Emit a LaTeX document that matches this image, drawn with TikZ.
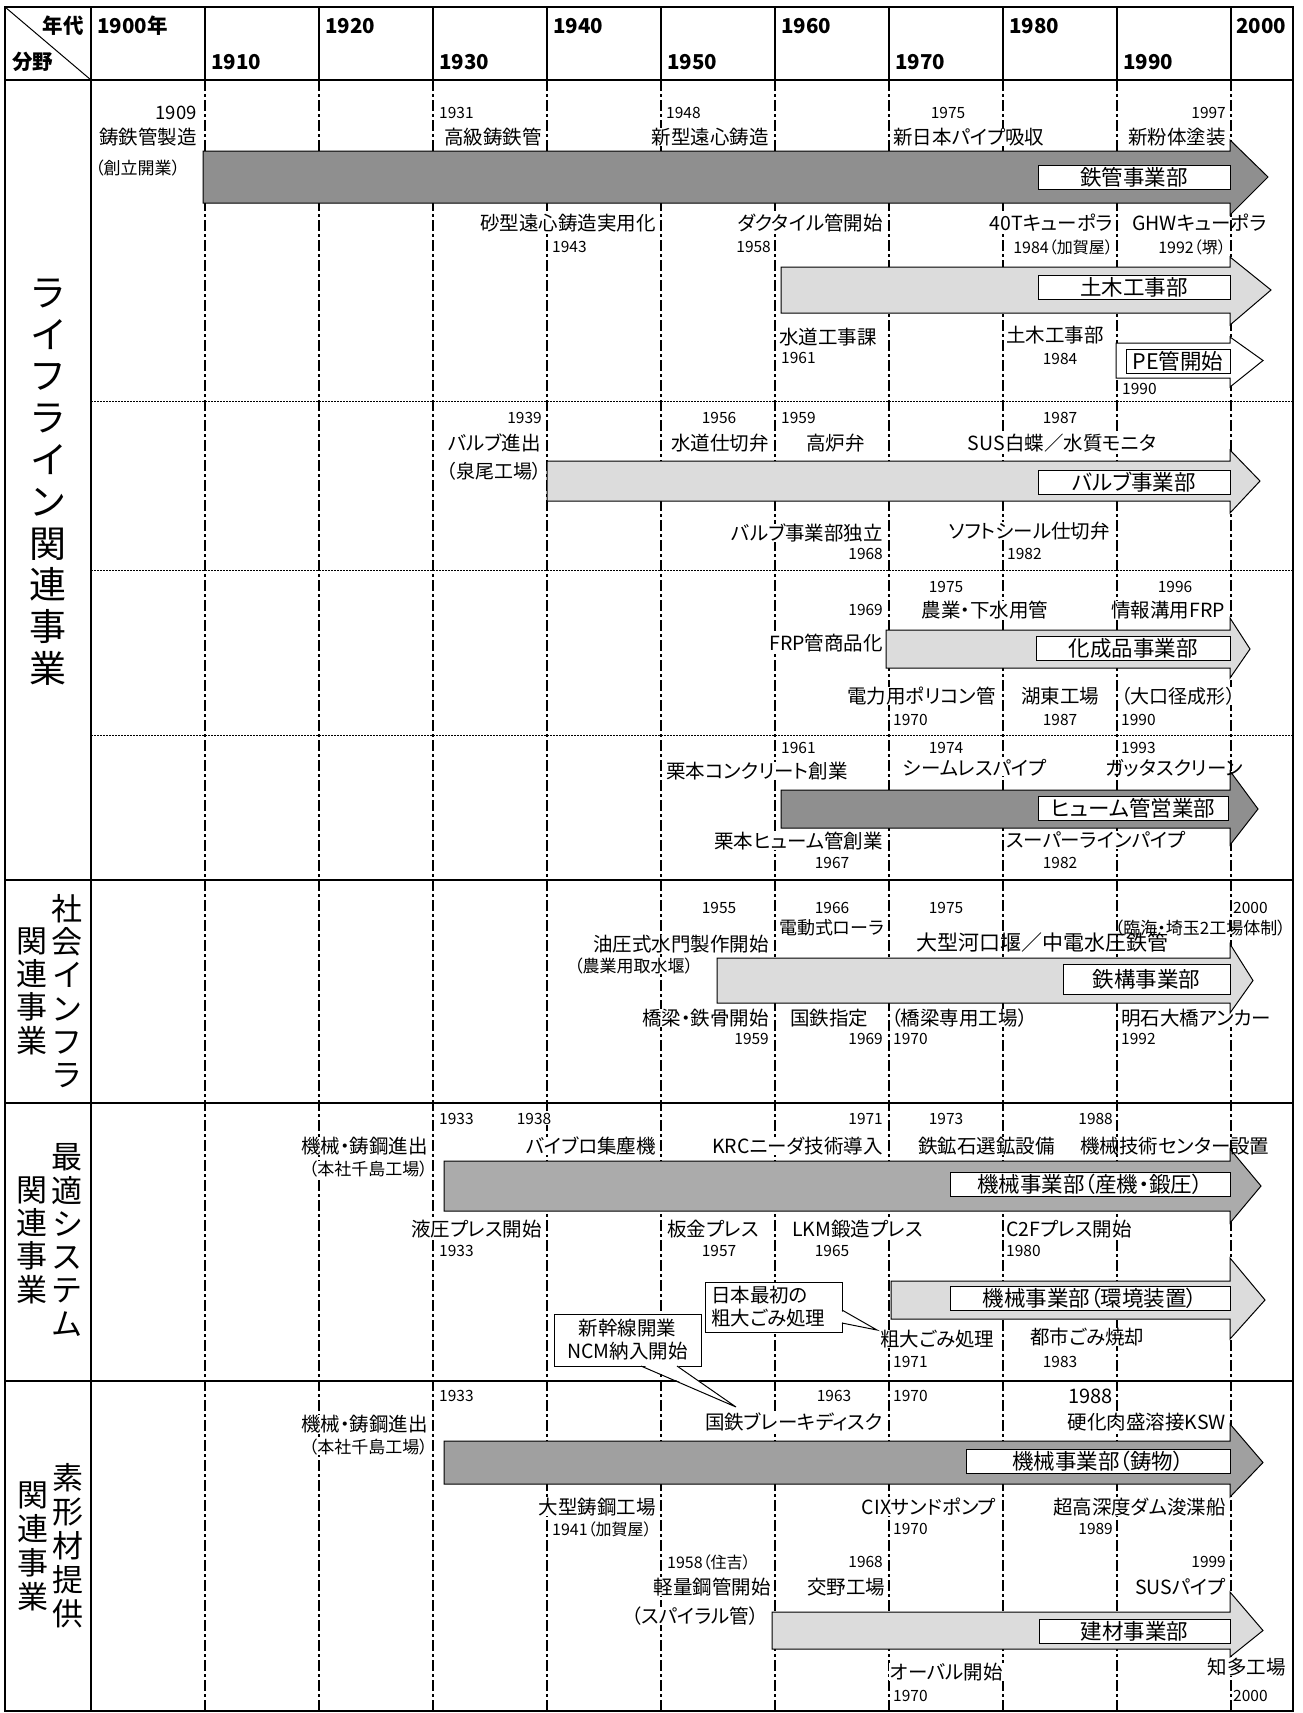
\documentclass[tikz,border=0pt]{standalone}
\usepackage{fontspec}
\usepackage{graphicx}
\setmainfont{Noto Sans CJK JP}[RawFeature=+palt]
\usetikzlibrary{calc}
\pgfdeclarelayer{gridlayer}
\pgfdeclarelayer{arrowlayer}
\pgfdeclarelayer{toplayer}
\pgfsetlayers{gridlayer,main,arrowlayer,toplayer}
\definecolor{darkfill}{HTML}{8F8F8F}
\definecolor{midfill}{HTML}{ABABAB}
\definecolor{castfill}{HTML}{A0A0A0}
\definecolor{lightfill}{HTML}{DCDCDC}
\newcommand\tlarrow[8]{%
  \begin{pgfonlayer}{arrowlayer}
  \draw[line width=1pt, fill=#8] (#1,#3) -- (#2,#3) -- (#2,#5) -- (#7,{(#3+#4)/2}) -- (#2,#6) -- (#2,#4) -- (#1,#4) -- cycle;
  \end{pgfonlayer}}
\newcommand\tlbox[5]{%
  \begin{pgfonlayer}{arrowlayer}
  \node[boxlbl, minimum width=#4pt, minimum height=24pt] (#1) at (#2,#3) {#5};
  \end{pgfonlayer}}
\tikzset{
  lbl/.style={inner sep=0pt, inner xsep=1pt, fill=white, font=\fontsize{19.5}{22}\selectfont},
  yr/.style={inner sep=0pt, inner xsep=1pt, fill=white, font=\fontsize{15.5}{18}\selectfont},
  sml/.style={inner sep=0pt, inner xsep=1pt, fill=white, font=\fontsize{17}{19}\selectfont},
  boxlbl/.style={draw, line width=1pt, fill=white, inner sep=0pt, font=\fontsize{21.5}{24}\selectfont},
  hdr/.style={inner sep=0pt, font=\fontsize{20.5}{24}\selectfont\bfseries},
  vbig/.style={inner sep=0pt, align=center, font=\fontsize{37}{41.8}\selectfont},
  vsmall/.style={inner sep=0pt, align=center, font=\fontsize{31}{33.3}\selectfont},
  decline/.style={line width=1.5pt, dash pattern=on 11pt off 3pt on 3pt off 3pt},
  subsep/.style={line width=1pt, dash pattern=on 1.5pt off 1.5pt},
  secsep/.style={line width=1.3pt},
  callout/.style={draw, line width=1pt, fill=white, inner sep=0pt, font=\fontsize{19.5}{23}\selectfont},
}
\begin{document}
\begin{tikzpicture}[x=1pt, y=-1pt]
\useasboundingbox (0,0) rectangle (1302,1713);
\begin{pgfonlayer}{gridlayer}
\fill[white] (0,0) rectangle (1302,1713);
\foreach \i in {1,...,10} {
  \draw[line width=1.3pt] ({91+114*\i},7) -- ({91+114*\i},80);
  \draw[decline] ({91+114*\i},80) -- ({91+114*\i},1711);
}
\foreach \yy in {401,570,735} { \draw[subsep] (91,\yy) -- (1293,\yy); }
\foreach \yy in {80,880,1103,1381} { \draw[secsep] (5,\yy) -- (1293,\yy); }
\draw[line width=1.8pt] (91,7) -- (91,1711);
\draw[line width=1pt] (5,7) -- (91,80);
\draw[line width=1.6pt] (5,7) rectangle (1293,1711);
\end{pgfonlayer}

% ---------- header ----------
\node[hdr, anchor=east] (hnen) at (84,26) {年代};
\node[hdr, anchor=west] (hbun) at (12,62) {分野};
\node[hdr, anchor=west] (h1900) at (97,26) {1900年};
\node[hdr, anchor=west] (h1910) at (211,62) {1910};
\node[hdr, anchor=west] (h1920) at (325,26) {1920};
\node[hdr, anchor=west] (h1930) at (439,62) {1930};
\node[hdr, anchor=west] (h1940) at (553,26) {1940};
\node[hdr, anchor=west] (h1950) at (667,62) {1950};
\node[hdr, anchor=west] (h1960) at (781,26) {1960};
\node[hdr, anchor=west] (h1970) at (895,62) {1970};
\node[hdr, anchor=west] (h1980) at (1009,26) {1980};
\node[hdr, anchor=west] (h1990) at (1123,62) {1990};
\node[hdr, anchor=west] (h2000) at (1236,26) {2000};

% ---------- left labels ----------
\node[vbig] (s1) at (48,482) {ラ\\イ\\フ\\ラ\\イ\\ン\\関\\連\\事\\業};
\node[vsmall] (s2a) at (67,991) {社\\会\\イ\\ン\\フ\\ラ};
\node[vsmall] (s2b) at (32,991) {関\\連\\事\\業};
\node[vsmall] (s3a) at (67,1240) {最\\適\\シ\\ス\\テ\\ム};
\node[vsmall] (s3b) at (32,1240) {関\\連\\事\\業};
\node[vsmall, font=\fontsize{31}{34}\selectfont] (s4a) at (68,1546) {素\\形\\材\\提\\供};
\node[vsmall, font=\fontsize{31}{34}\selectfont] (s4b) at (33,1546) {関\\連\\事\\業};

% ---------- Section 1A : 鉄管 ----------
\tlarrow{203}{1230}{151}{203}{140}{215}{1268}{darkfill}
\tlbox{b1}{1134}{177.5}{192}{鉄管事業部}
\node[yr, anchor=east, font=\fontsize{18.5}{20}\selectfont] (a1) at (198,113) {1909};
\node[lbl, anchor=east] (a2) at (198,137) {鋳鉄管製造};
\node[sml, anchor=west] (a3) at (94,168) {（創立開業）};
\node[yr, anchor=west] (a4) at (438,113) {1931};
\node[lbl, anchor=east] (a5) at (543,137) {高級鋳鉄管};
\node[yr, anchor=west] (a6) at (665,113) {1948};
\node[lbl, anchor=east] (a7) at (770,137) {新型遠心鋳造};
\node[yr] (a8) at (948,113) {1975};
\node[lbl, anchor=west] (a9) at (892,137) {新日本パイプ吸収};
\node[yr, anchor=east] (a10) at (1227,113) {1997};
\node[lbl, anchor=east] (a11) at (1227,137) {新粉体塗装};
\node[lbl, anchor=east] (a12) at (657,223) {砂型遠心鋳造実用化};
\node[yr, anchor=west] (a13) at (551,247) {1943};
\node[lbl, anchor=east] (a14) at (884,223) {ダクタイル管開始};
\node[yr, anchor=east] (a15) at (772,247) {1958};
\node[lbl, anchor=east] (a16) at (1114,223) {40Tキューポラ};
\node[sml, anchor=east, font=\fontsize{16}{18}\selectfont] (a17) at (1114,247) {1984（加賀屋）};
\begin{pgfonlayer}{toplayer}
\node[lbl, anchor=west, fill=none] (a18) at (1131,223) {GHWキューポラ};
\end{pgfonlayer}
\node[sml, anchor=east, font=\fontsize{16}{18}\selectfont] (a19) at (1227,247) {1992（堺）};
\tlarrow{781}{1230}{267}{313}{257}{325}{1271}{lightfill}
\tlbox{b2}{1134}{287.5}{192}{土木工事部}
\node[lbl, anchor=west] (a20) at (778,337) {水道工事課};
\node[yr, anchor=west] (a21) at (780,358) {1961};
\node[lbl, anchor=west] (a22) at (1005,335) {土木工事部};
\node[yr] (a23) at (1060,359) {1984};
\tlarrow{1116}{1230}{343}{378}{337}{387}{1263}{white}
\tlbox{b3}{1178}{361.5}{104}{PE管開始}
\node[yr, anchor=west] (a24) at (1121,389) {1990};

% ---------- Section 1B : バルブ ----------
\node[yr, anchor=east] (v1) at (543,418) {1939};
\node[yr] (v2) at (719,418) {1956};
\node[yr, anchor=west] (v3) at (780,418) {1959};
\node[yr] (v4) at (1060,418) {1987};
\node[lbl, anchor=east] (v5) at (542,443) {バルブ進出};
\node[lbl, anchor=east] (v6) at (770,443) {水道仕切弁};
\node[lbl, anchor=west] (v7) at (805,443) {高炉弁};
\node[lbl] (v8) at (1062,443) {SUS白蝶／水質モニタ};
\node[sml, anchor=east, font=\fontsize{19}{21}\selectfont] (v9) at (543,471) {（泉尾工場）};
\tlarrow{547}{1230}{461}{501}{450}{513}{1260}{lightfill}
\tlbox{b4}{1134}{482}{192}{バルブ事業部}
\node[lbl, anchor=east] (v10) at (884,533) {バルブ事業部独立};
\node[yr, anchor=east] (v11) at (884,554) {1968};
\node[lbl, anchor=east] (v12) at (1111,531) {ソフトシール仕切弁};
\node[yr, anchor=west] (v13) at (1006,554) {1982};

% ---------- Section 1C : 化成品 ----------
\node[yr] (k1) at (946,587) {1975};
\node[yr] (k2) at (1175,587) {1996};
\node[yr, anchor=east] (k3) at (884,610) {1969};
\node[lbl] (k4) at (985,610) {農業・下水用管};
\node[lbl, anchor=east] (k5) at (1226,610) {情報溝用FRP};
\node[lbl, anchor=east] (k6) at (884,643) {FRP管商品化};
\tlarrow{886}{1230}{630}{668}{618}{678}{1250}{lightfill}
\tlbox{b5}{1133}{648.5}{194}{化成品事業部}
\node[lbl, anchor=east] (k7) at (997,696) {電力用ポリコン管};
\node[yr, anchor=west] (k8) at (892,720) {1970};
\node[lbl, anchor=west] (k9) at (1020,696) {湖東工場};
\node[yr] (k10) at (1060,720) {1987};
\node[sml, anchor=west, font=\fontsize{19}{21}\selectfont] (k11) at (1120,696) {（大口径成形）};
\node[yr, anchor=west] (k12) at (1120,720) {1990};

% ---------- Section 1D : ヒューム管 ----------
\node[yr, anchor=west] (u1) at (780,748) {1961};
\node[yr] (u2) at (946,748) {1974};
\node[yr, anchor=west] (u3) at (1120,748) {1993};
\node[lbl, anchor=west] (u4) at (665,771) {栗本コンクリート創業};
\node[lbl, anchor=west] (u5) at (902,768) {シームレスパイプ};
\begin{pgfonlayer}{toplayer}
\node[lbl, anchor=west, fill=none] (u6) at (1104,768) {ガッタスクリーン};
\end{pgfonlayer}
\tlarrow{781}{1230}{790}{828}{771}{845}{1258}{darkfill}
\tlbox{b6}{1133}{808}{190}{ヒューム管営業部}
\node[lbl, anchor=east] (u7) at (884,841) {栗本ヒューム管創業};
\node[yr] (u8) at (832,863) {1967};
\node[lbl, anchor=west] (u9) at (1005,840) {スーパーラインパイプ};
\node[yr] (u10) at (1060,863) {1982};

% ---------- Section 2 : 社会インフラ ----------
\node[yr] (i1) at (719,908) {1955};
\node[yr] (i2) at (832,908) {1966};
\node[yr] (i3) at (946,908) {1975};
\node[yr, anchor=west] (i4) at (1232,908) {2000};
\node[lbl, anchor=west, font=\fontsize{18}{20}\selectfont] (i5) at (778,928) {電動式ローラ};
\node[lbl, anchor=east] (i7) at (770,944) {油圧式水門製作開始};
\begin{pgfonlayer}{toplayer}
\node[lbl, anchor=west, fill=none, font=\fontsize{21}{23}\selectfont] (i8) at (915,943) {大型河口堰／中電水圧鉄管};
\node[sml, anchor=east, fill=none] (i6) at (1287,928) {（臨海・埼玉2工場体制）};
\end{pgfonlayer}
\node[sml, anchor=west] (i9) at (573,966) {（農業用取水堰）};
\tlarrow{717}{1230}{958}{1003}{944}{1013}{1253}{lightfill}
\begin{pgfonlayer}{arrowlayer}
\node[boxlbl, minimum width=167pt, minimum height=30pt] (b7) at (1146.5,979) {鉄構事業部};
\end{pgfonlayer}
\node[lbl, anchor=east] (i10) at (770,1018) {橋梁・鉄骨開始};
\node[yr, anchor=east] (i11) at (770,1039) {1959};
\node[lbl, anchor=west] (i12) at (789,1018) {国鉄指定};
\node[yr, anchor=east] (i13) at (884,1039) {1969};
\node[lbl, anchor=west] (i14) at (890,1018) {（橋梁専用工場）};
\node[yr, anchor=west] (i15) at (892,1039) {1970};
\node[lbl, anchor=west] (i16) at (1120,1018) {明石大橋アンカー};
\node[yr, anchor=west] (i17) at (1120,1039) {1992};

% ---------- Section 3 : 最適システム ----------
\node[yr, anchor=west] (m1) at (438,1119) {1933};
\node[yr] (m2) at (534,1119) {1938};
\node[yr, anchor=east] (m3) at (884,1119) {1971};
\node[yr] (m4) at (946,1119) {1973};
\node[yr, anchor=east] (m5) at (1114,1119) {1988};
\node[lbl, anchor=east] (m6) at (429,1146) {機械・鋳鋼進出};
\node[sml, anchor=east] (m7) at (429,1169) {（本社千島工場）};
\node[lbl, anchor=east] (m8) at (657,1146) {バイブロ集塵機};
\node[lbl, anchor=east] (m9) at (884,1146) {KRCニーダ技術導入};
\node[lbl, anchor=west] (m10) at (917,1146) {鉄鉱石選鉱設備};
\begin{pgfonlayer}{toplayer}
\node[lbl, anchor=west, fill=none] (m11) at (1079,1146) {機械技術センター設置};
\end{pgfonlayer}
\tlarrow{444}{1230}{1161}{1211}{1149}{1223}{1261}{midfill}
\tlbox{b8}{1090}{1184.5}{280}{機械事業部（産機・鍛圧）}
\node[lbl, anchor=east] (m12) at (543,1229) {液圧プレス開始};
\node[yr, anchor=west] (m13) at (438,1251) {1933};
\node[lbl, anchor=west] (m14) at (666,1229) {板金プレス};
\node[yr] (m15) at (719,1251) {1957};
\node[lbl, anchor=west] (m16) at (791,1229) {LKM鍛造プレス};
\node[yr] (m17) at (832,1251) {1965};
\node[lbl, anchor=west] (m18) at (1005,1229) {C2Fプレス開始};
\node[yr, anchor=west] (m19) at (1005,1251) {1980};
\tlarrow{891}{1230}{1281}{1319}{1258}{1339}{1265}{lightfill}
\tlbox{b9}{1090}{1298.5}{280}{機械事業部（環境装置）}
\node[lbl, anchor=west] (m20) at (879,1339) {粗大ごみ処理};
\node[yr, anchor=west] (m21) at (892,1362) {1971};
\node[lbl, anchor=west] (m22) at (1029,1337) {都市ごみ焼却};
\node[yr] (m23) at (1060,1362) {1983};

% ---------- Section 4 : 素形材提供 ----------
\node[yr, anchor=west] (f1) at (438,1396) {1933};
\node[yr] (f2) at (834,1396) {1963};
\node[yr, anchor=west] (f3) at (892,1396) {1970};
\node[yr, anchor=east, font=\fontsize{20}{22}\selectfont] (f4) at (1114,1396) {1988};
\node[lbl, anchor=east] (f5) at (429,1424) {機械・鋳鋼進出};
\node[sml, anchor=east] (f6) at (429,1447) {（本社千島工場）};
\node[lbl, anchor=east] (f7) at (884,1422) {国鉄ブレーキディスク};
\node[lbl, anchor=east] (f8) at (1227,1422) {硬化肉盛溶接KSW};
\tlarrow{444}{1230}{1441}{1484}{1424}{1497}{1263}{castfill}
\tlbox{b10}{1098}{1461}{264}{機械事業部（鋳物）}
\node[lbl, anchor=east] (f9) at (657,1507) {大型鋳鋼工場};
\node[sml, anchor=west, font=\fontsize{16}{18}\selectfont] (f10) at (551,1529) {1941（加賀屋）};
\node[lbl, anchor=east] (f11) at (997,1507) {CIXサンドポンプ};
\node[yr, anchor=west] (f12) at (892,1529) {1970};
\node[lbl, anchor=east] (f13) at (1227,1507) {超高深度ダム浚渫船};
\node[yr, anchor=east] (f14) at (1114,1529) {1989};
\node[sml, anchor=west, font=\fontsize{16}{18}\selectfont] (f15) at (666,1562) {1958（住吉）};
\node[yr, anchor=east] (f16) at (884,1562) {1968};
\node[yr, anchor=east] (f17) at (1227,1562) {1999};
\node[lbl, anchor=east] (f18) at (772,1587) {軽量鋼管開始};
\node[lbl, anchor=west] (f19) at (806,1587) {交野工場};
\node[lbl, anchor=east] (f20) at (1227,1587) {SUSパイプ};
\node[lbl, anchor=east] (f21) at (760,1616) {（スパイラル管）};
\tlarrow{772}{1230}{1612}{1649}{1592}{1657}{1263}{lightfill}
\tlbox{b11}{1134.5}{1631}{191}{建材事業部}
\node[lbl, anchor=west] (f22) at (889,1672) {オーバル開始};
\node[yr, anchor=west] (f23) at (892,1696) {1970};
\node[lbl, anchor=east] (f24) at (1287,1667) {知多工場};
\node[yr, anchor=west] (f25) at (1232,1696) {2000};

% ---------- callouts ----------
\begin{pgfonlayer}{arrowlayer}
\node[callout, align=center, minimum width=147pt, minimum height=52pt] (c1) at (627.5,1340) {新幹線開業\\NCM納入開始};
\coordinate (c1a) at (641,1366);
\coordinate (c1b) at (677,1366);
\coordinate (c1tip) at (736,1407);
\fill[white] ($(c1a)+(0.8,-1.2)$) -- (c1tip) -- ($(c1b)+(-0.8,-1.2)$) -- cycle;
\draw[line width=1pt] (c1a) -- (c1tip) -- (c1b);

\node[callout, align=left, minimum width=137pt, minimum height=50pt, text width=125pt] (c2) at (773.5,1307) {日本最初の\\粗大ごみ処理};
\coordinate (c2a) at (842,1310);
\coordinate (c2b) at (842,1323);
\coordinate (c2tip) at (877,1330);
\fill[white] ($(c2a)+(-1.2,0.8)$) -- (c2tip) -- ($(c2b)+(-1.2,-0.8)$) -- cycle;
\draw[line width=1pt] (c2a) -- (c2tip) -- (c2b);
\end{pgfonlayer}
\end{tikzpicture}
\end{document}
